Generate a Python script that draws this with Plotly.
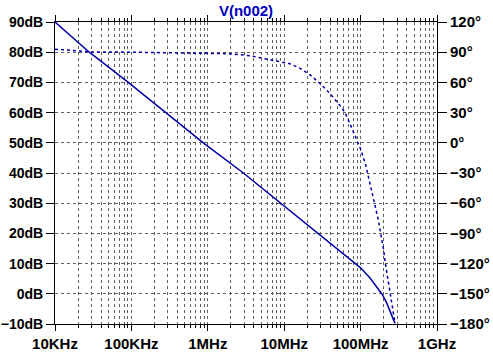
import plotly.graph_objects as go

# Data
mag_freq = [1e4, 2.81e4, 9.1e4, 2.84e5, 8.73e5, 2.92e6, 8.95e6, 2.81e7, 5.1e7,
            7.26e7, 1.0e8, 1.33e8, 1.62e8, 1.93e8, 2.20e8, 2.43e8, 2.68e8, 2.82e8]
mag_db = [90, 80, 70, 60, 50, 40, 30, 20, 14.4, 11.3, 8.6, 5.2, 2.4, -0.3, -3.1,
          -5.9, -8.7, -9.8]

ph_freq = [1e4, 2e4, 3e4, 1e5, 3e5, 1e6, 1.95e6, 3.57e6, 5.33e6, 8.81e6, 1.19e7,
           1.61e7, 2.18e7, 2.94e7, 3.97e7, 5.37e7, 6.25e7, 7.26e7, 8.89e7, 1.01e8,
           1.166e8, 1.26e8, 1.40e8, 1.54e8, 1.71e8, 1.83e8, 1.98e8, 2.11e8, 2.28e8,
           2.47e8, 2.68e8, 2.82e8]
ph_deg = [93, 91, 90.3, 90, 89.7, 89.3, 88.5, 86.5, 84, 81, 78.5, 74, 67.5, 59, 49,
          37, 30, 19, 4, -7, -22, -33, -46, -61, -77, -90, -104, -120, -137, -154,
          -171, -179]

x_tickvals = [1e4, 1e5, 1e6, 1e7, 1e8, 1e9]
x_ticktext = ["10KHz", "100KHz", "1MHz", "10MHz", "100MHz", "1GHz"]
x_minor = [m * 10 ** e for e in range(4, 9) for m in range(2, 10)]

title = "V(n002)"

LINE = "#0000A8"
GRID = "#5F5F5F"
FONT = dict(family="Liberation Sans", size=15, color="black", weight="bold")
FONT_L = dict(family="Liberation Sans", size=14, color="black", weight="bold")

fig = go.Figure()
fig.add_trace(go.Scatter(x=mag_freq, y=mag_db, mode="lines",
                         line=dict(color=LINE, width=1.5), yaxis="y", showlegend=False))
fig.add_trace(go.Scatter(x=ph_freq, y=ph_deg, mode="lines",
                         line=dict(color=LINE, width=1.5, dash="3px,3px"), yaxis="y2",
                         showlegend=False))

fig.update_layout(
    width=493, height=356,
    margin=dict(l=55, r=56, t=22, b=32, autoexpand=False),
    paper_bgcolor="white", plot_bgcolor="white",
    font=FONT,
    title=dict(text=title, x=0.5, xanchor="center", y=1 - 11 / 356, yanchor="middle",
               xref="paper",
               font=dict(family="Liberation Sans", size=15, color="#0000C0")),
    xaxis=dict(type="log", range=[4, 9], tickmode="array", tickvals=x_tickvals,
               ticktext=x_ticktext, ticks="outside", ticklen=6, tickcolor="black",
               showline=True, linecolor="black", linewidth=1, mirror="ticks",
               showgrid=True, gridcolor=GRID, griddash="3px,3px", gridwidth=1,
               minor=dict(tickmode="array", tickvals=x_minor, ticks="outside", ticklen=3,
                          tickcolor="black", showgrid=True, gridcolor=GRID,
                          griddash="3px,3px", gridwidth=1),
               tickfont=FONT, fixedrange=True, automargin=False),
    yaxis=dict(range=[-10, 90], dtick=10, tick0=0, ticksuffix="dB", ticks="outside",
               ticklen=8, tickcolor="black", showline=True, linecolor="black",
               linewidth=1, showgrid=True, gridcolor=GRID, griddash="3px,3px",
               gridwidth=1, zeroline=False, tickfont=FONT_L, automargin=False,
               ticklabelstandoff=0, fixedrange=True),
    yaxis2=dict(range=[-180, 120], dtick=30, tick0=0, ticksuffix="°", ticks="outside",
                ticklen=9, tickcolor="black", showline=True, linecolor="black",
                linewidth=1, overlaying="y", side="right", showgrid=False,
                zeroline=False, tickfont=FONT, automargin=False, fixedrange=True),
)

fig.write_html("out.html", config={"displayModeBar": False},
               post_script="document.body.style.margin='0';document.body.style.overflow='hidden';")
